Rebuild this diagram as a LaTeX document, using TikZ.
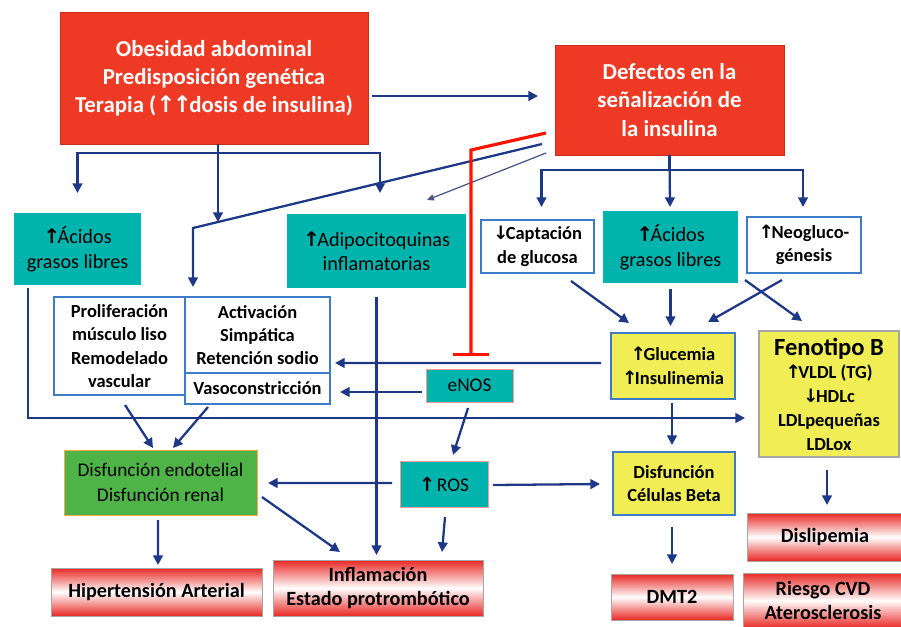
\documentclass[tikz,border=0pt]{standalone}
\usepackage{fontspec}
\setmainfont{Carlito}
\newfontfamily\symfont{DejaVu Sans}
\usetikzlibrary{arrows.meta,calc,positioning}
\definecolor{boxred}{RGB}{238,58,36}
\definecolor{boxredline}{RGB}{200,45,30}
\definecolor{boxteal}{RGB}{0,180,174}
\definecolor{boxyellow}{RGB}{240,238,84}
\definecolor{boxgreen}{RGB}{78,180,72}
\definecolor{boxblue}{RGB}{62,124,200}
\definecolor{lnblue}{RGB}{30,56,136}
\definecolor{gradred}{RGB}{232,40,36}
\newcommand{\upar}{{\symfont\bfseries ↑}\kern-1.5pt}
\newcommand{\dnar}{{\symfont\bfseries ↓}\kern-1.5pt}

\begin{document}
\begin{tikzpicture}[x=0.02cm,y=-0.02cm,
  every node/.style={inner sep=0pt,outer sep=0pt,align=center},
  redbox/.style={draw=boxredline,fill=boxred,text=white,font=\fontsize{13}{16}\selectfont\bfseries},
  tealbox/.style={fill=boxteal,font=\fontsize{11.5}{14}\selectfont},
  whitebox/.style={draw=boxblue,line width=1.1pt,fill=white,font=\fontsize{10.5}{13.3}\selectfont\bfseries},
  yellowbox/.style={draw=boxblue,line width=1.1pt,fill=boxyellow,font=\fontsize{10.5}{13.5}\selectfont\bfseries},
  smallteal/.style={draw=red!40,fill=boxteal,font=\fontsize{11}{13}\selectfont},
  greenbox/.style={draw=orange!70,fill=boxgreen,font=\fontsize{11}{14}\selectfont},
  outbox/.style={draw=gray!70,top color=gradred,bottom color=gradred,middle color=white,font=\fontsize{11.5}{14}\selectfont\bfseries},
  link/.style={draw=lnblue,line width=1.3pt,-{Triangle[length=5.5pt,width=5.5pt]}},
  thinlink/.style={draw=lnblue!60!gray,line width=0.7pt,-{Triangle[length=4pt,width=3.5pt]}},
  inhib/.style={draw=red!85!orange,line width=1.8pt,-{Bar[width=0.72cm]}}
]
\useasboundingbox (0,0) rectangle (901,626);

% Causes
\node[redbox,minimum width=6.16cm,minimum height=2.64cm] (obes) at (214,78)
  {Obesidad abdominal\\Predisposición genética\\Terapia (\upar\upar dosis de insulina)};
\node[redbox,minimum width=4.58cm,minimum height=2.2cm] (defect) at (669.5,100)
  {Defectos en la\\señalización de\\la insulina};

% Second row
\node[tealbox,minimum width=2.54cm,minimum height=1.44cm] (acid1) at (77.5,249) {\upar Ácidos\\grasos libres};
\node[tealbox,minimum width=3.58cm,minimum height=1.48cm] (adipo) at (376.5,251) {\upar Adipocitoquinas\\inflamatorias};
\node[whitebox,minimum width=2.26cm,minimum height=1.06cm] (capt) at (537.5,246.5) {\dnar Captación\\de glucosa};
\node[tealbox,minimum width=2.7cm,minimum height=1.44cm] (acid2) at (670.5,247) {\upar Ácidos\\grasos libres};
\node[whitebox,minimum width=2.28cm,minimum height=1.12cm] (neo) at (804,245) {\upar Neogluco-\\génesis};

% Middle
\node[whitebox,minimum width=2.62cm,minimum height=1.96cm] (prolif) at (119.5,346)
  {Proliferación\\músculo liso\\Remodelado\\vascular};
\node[whitebox,minimum width=2.9cm,minimum height=1.52cm] (activ) at (257.5,335)
  {Activación\\Simpática\\Retención sodio};
\node[whitebox,minimum width=2.9cm,minimum height=0.62cm] (vaso) at (257.5,388.5) {Vasoconstricción};
\node[yellowbox,minimum width=2.48cm,minimum height=1.32cm] (gluc) at (673,366) {\upar Glucemia\\\upar Insulinemia};
\node[yellowbox,draw=gray!70,minimum width=2.8cm,minimum height=2.52cm] (fenot) at (829,394)
  {{\fontsize{14}{17}\selectfont Fenotipo B}\\\upar VLDL (TG)\\\dnar HDLc\\LDLpequeñas\\LDLox};
\node[smallteal,minimum width=1.74cm,minimum height=0.66cm] (enos) at (469.5,385.5) {eNOS};
\node[smallteal,minimum width=1.76cm,minimum height=0.92cm] (ros) at (444,484) {\upar\ ROS};
\node[greenbox,minimum width=3.86cm,minimum height=1.3cm] (disf) at (160.5,482.5)
  {Disfunción endotelial\\Disfunción renal};
\node[yellowbox,minimum width=2.44cm,minimum height=1.26cm] (beta) at (674,483.5) {Disfunción\\Células Beta};

% Outcomes
\node[outbox,minimum width=4.22cm,minimum height=0.96cm] (hiper) at (156.5,592) {Hipertensión Arterial};
\node[outbox,minimum width=4.2cm,minimum height=1.12cm] (inflam) at (378,588) {Inflamación\\Estado protrombótico};
\node[outbox,minimum width=2.44cm,minimum height=0.92cm] (dmt) at (672,597) {DMT2};
\node[outbox,minimum width=3.12cm,minimum height=0.96cm] (dislip) at (825,537) {Dislipemia};
\node[outbox,minimum width=3.2cm,minimum height=1.1cm] (cvd) at (823,600.5) {Riesgo CVD\\Aterosclerosis};

% Bends
\coordinate (kink) at (193,228);
\coordinate (join) at (218,222);
\coordinate (rbend) at (471,150);

% From the top boxes
\draw[link] ($(obes.east)+(4,18)$) -- ($(defect.west)+(-17,-4)$);
\draw[link] ($(obes.south)+(4,0)$) -- (join);
\draw[link] ($(obes.south)+(4,9)$) -| ($(acid1.north)+(0,-20)$);
\draw[link] ($(obes.south)+(4,9)$) -| ($(adipo.north)+(3.5,-21)$);
\draw[link] ($(defect.west)+(-13,44)$) -- (kink) -- ($(kink |- activ.north)+(0,-10)$);
\draw[thinlink] ($(defect.south west)+(-9,-2)$) -- ($(adipo.north east)+(-39,-14)$);
\draw[inhib] ($(defect.west)+(-9,33)$) -- (rbend) -- ($(rbend |- enos.north)+(0,-13)$);
\draw[link] (defect.south) -- ++(0,15) -| ($(capt.north)+(4,-13)$);
\draw[link] (defect.south) -- ++(0,15) -| ($(neo.north)+(-1,-10)$);
\draw[link] (defect.south) -- ($(acid2.north)+(-0.5,-4)$);

% Into glycaemia and phenotype B
\draw[link] ($(capt.south)+(33.5,8)$) -- ($(gluc.north)+(-44,-10)$);
\draw[link] ($(acid2.south)+(0,6)$) -- ($(acid2.south |- gluc.north)+(0,-7)$);
\draw[link] ($(neo.south)+(-22,7)$) -- ($(gluc.north)+(35,-11)$);
\draw[link] ($(acid2.south east)+(7,-3)$) -- ($(fenot.north)+(-27,-10)$);
\draw[link] ($(gluc.west)+(-10,-3)$) -- ($(activ.south east)+(5,-10)$);
\draw[link] ($(enos.west)+(-4,6.5)$) -- ($(vaso.east)+(10,3.5)$);
\draw[link] ($(acid1.south west)+(14,3)$) |- ($(fenot.west)+(-14,24)$);
\draw[link] ($(adipo.south)+(0,9)$) -- ($(adipo.south |- inflam.north)+(0,-5)$);

% Lower part
\draw[link] ($(prolif.south)+(5.5,10)$) -- ($(disf.north)+(-7.5,-2)$);
\draw[link] ($(vaso.south west)+(23,3)$) -- ($(disf.north)+(12.5,-2)$);
\draw[link] ($(enos.south)+(-1.5,6)$) -- ($(ros.north)+(9,-6)$);
\draw[link] ($(ros.west)+(-8,-1)$) -- ($(disf.east)+(11,0.5)$);
\draw[link] ($(ros.east)+(5,1)$) -- ($(beta.west)+(-13,0.5)$);
\draw[link] ($(ros.south)+(1,10)$) -- ($(inflam.north)+(64,-8)$);
\draw[link] ($(disf.south)+(-2.5,5)$) -- ($(hiper.north)+(1.5,-3)$);
\draw[link] ($(disf.east)+(5,14.5)$) -- ($(inflam.north)+(-38,-8)$);
\draw[link] ($(gluc.south)+(-1,4)$) -- ($(beta.north)+(-2,-7)$);
\draw[link] ($(beta.south)+(-2,12)$) -- ($(dmt.north)+(0,-10)$);
\draw[link] ($(fenot.south)+(-2,13)$) -- ($(dislip.north)+(2,-8)$);
\end{tikzpicture}
\end{document}
